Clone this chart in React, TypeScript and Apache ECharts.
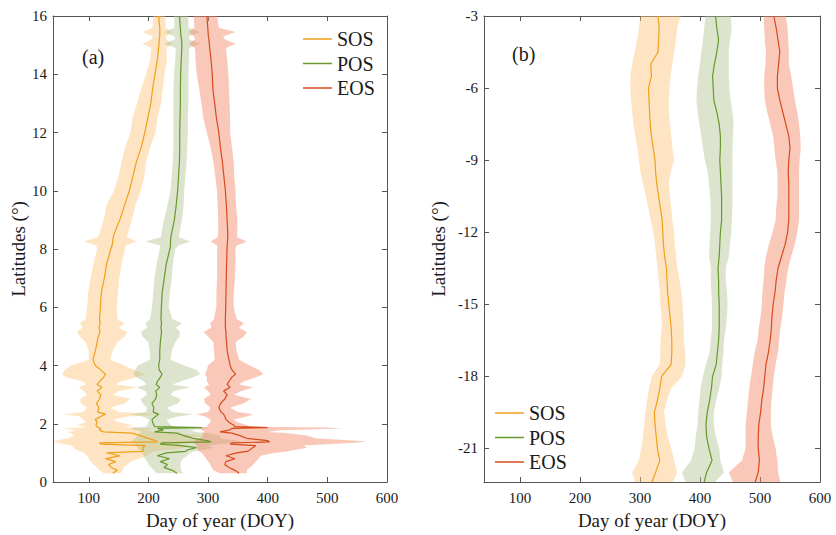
import React, { useEffect, useRef } from "react";
import * as echarts from "echarts";

// ---------- Panel (a): latitudes 0–16 ----------
const latA = [0.3,0.4,0.5,0.6,0.7,0.8,0.9,1.0,1.05,1.1,1.18,1.25,1.3,1.34,1.38,1.42,1.5,1.6,1.68,1.72,1.78,1.84,1.87,1.9,1.95,2.05,2.15,2.25,2.33,2.4,2.55,2.7,2.85,3.0,3.12,3.25,3.35,3.45,3.6,3.7,3.85,4.0,4.2,4.5,4.8,5.0,5.15,5.3,5.45,5.6,6.0,6.5,7.0,7.5,8.0,8.12,8.26,8.4,8.55,9.0,9.5,10.0,10.5,11.0,11.5,12.0,12.5,13.0,13.5,14.0,14.5,14.9,15.05,15.2,15.3,15.45,15.6,16.0];

const sosA = [140,148,138,133,145,128,152,130,190,192,190,195,120,118,215,212,200,185,172,125,118,120,116,114,112,114,111,120,128,115,117,113,118,120,114,122,114,118,125,128,120,111,107,111,114,116,119,117,119,118,119.5,121,126,130,137,139,140,141,143,152,160,168,174,180,188,194,199,204,207,211,215,217,218,218,219,219,219,217];
const sosLoA = [125,118,114,108,103,100,97,92,86,80,75,72,60,50,41,45,65,75,70,64,80,55,90,95,80,95,91,85,58,90,97,86,86,97,92,83,95,91,62,55,60,70,100,100,95,85,80,90,85,95,97,99,103,108,114,113,92,115,118,125,130,142,150,155,161,170,173,181,188,196,203,205,190,205,208,190,207,208];
const sosHiA = [153,158,158,165,170,185,198,205,209,230,265,265,250,280,310,300,260,298,240,209,195,215,170,160,175,150,142,165,230,150,136,160,170,140,150,181,145,153,180,195,175,160,136,140,148,160,165,150,160,148,147,149,151,155,161,162,180,164,166,172,178,187,193,196,203,212,215,221,224,227,231,230,240,230,229,240,229,228];

const posA = [248,240,226,232,220,235,215,230,262,265,280,255,220,222,305,298,275,258,248,210,225,215,290,211,209,207,206,212,217,208,209,206,212,214,212,219,213,215,220,223,218,217,219,219,220,221,222,221,222,221,221.7,223,226.5,230,236,237,237,237.5,239,243.5,246.5,249,250.5,252,252.5,252.5,253,253.6,253.6,254,255,256,256,255.5,254.5,254,253.5,252];
const posLoA = [214,209,205,200,198,195,192,190,187,185,181,181,178,172,170,172,178,181,185,190,180,170,175,195,198,200,201,190,170,195,198,190,187,198,195,181,197,192,180,175,178,182,203,202,200,190,187,198,195,203,206,208,210,214,219,220,195,221,222,226,232,237,239,241,242,242,242,242,242,243,245,246,226,245,244,226,244,243];
const posHiA = [259,254,254,254,254,258,265,270,276,290,310,300,320,340,354,350,320,321,300,280,270,298,300,245,238,233,231,250,276,240,231,250,254,237,242,270,240,254,275,287,280,260,237,239,245,252,253,246,256,240,234,236,239,241,245,250,270,251,252,256,259,260,262,264,265,266,266,267,267,267,268,268,287,268,268,287,267,267];

const eosA = [352,345,335,328,330,345,330,348,365,370,375,380,337,340,403,400,365,352,340,320,335,340,400,345,343,335,330,328,326,322,318,321,328,332,326,337,332,335,340,346,340,337,335,332,331,330,330,329,329,329,329.6,330,330.5,331,331.8,332,332.5,333,333,331.8,330.7,329,326.5,324,320.6,318,314,311,308,307,305,302.7,302,301.5,300.5,300,299.5,298];
const eosLoA = [320,309,306,304,300,297,293,290,285,283,281,281,278,276,276,278,285,293,290,295,290,287,290,300,298,304,304,295,281,300,304,295,293,304,300,293,302,298,298,295,298,300,311,310,309,300,293,305,304,310,314,314,315,315,315,316,304,316,317,317,316,315,312,309,304,298,292,289,285,281,279,278,268,278,277,268,277,276];
const eosHiA = [365,365,370,376,380,385,388,410,432,445,466,460,500,540,566,550,480,466,430,400,420,527,500,370,365,350,343,365,376,350,337,360,372,343,355,376,352,360,380,393,385,370,352,348,346,360,365,352,360,348,343,343,345,346,346,348,365,349,349,349,347,346,344,343,340,337,337,336,335,334,332,330,346,328,325,346,318,315];

// ---------- Panel (b): latitudes -3 to -22.4 ----------
const latB = [-3.0,-3.5,-4.0,-4.5,-5.0,-5.5,-6.0,-6.5,-7.0,-7.5,-8.0,-8.5,-9.0,-9.5,-10.0,-10.5,-11.0,-11.5,-12.0,-12.5,-13.0,-13.5,-14.0,-14.5,-15.0,-15.5,-16.0,-16.5,-17.0,-17.5,-18.0,-18.5,-19.0,-19.5,-20.0,-20.5,-21.0,-21.5,-22.0,-22.4];

const sosB = [330,332,331,330,318,319,314,315,316,317,319,322,325,326,328,331,334,337,338,339,341,344,345,346,348,350,352,353,353,352,336,333,329,324,325,327,329,333,326,320];
const sosLoB = [301,298,295,291,287,284,284,285,287,289,292,296,298,301,305,310,314,318,322,325,327,329,331,333,334,336,336,334,334,333,320,315,312,309,307,305,302,298,287,292];
const sosHiB = [368,362,360,357,354,351,349,348,348,350,352,354,357,351,348,350,352,354,357,358,360,362,366,369,371,372,373,373,375,376,370,352,345,340,343,346,352,357,362,355];

const posB = [426,428,431,428,424,421,422,423,428,432,434,434,433,434,435,436,436,436,434,433,432,430,431,431,432,432,432,431,429,427,421,419,416,412,410,411,415,420,411,407];
const posLoB = [409,407,405,402,400,397,395,394,396,399,402,405,408,413,415,417,418,418,417,416,415,418,418,419,420,420,420,418,416,410,405,401,399,397,396,393,391,385,370,376];
const posHiB = [451,453,450,448,448,448,449,451,454,456,455,454,454,454,454,454,454,453,452,450,448,443,443,445,446,445,443,440,439,437,436,432,427,423,423,426,432,434,440,425];

const eosB = [523,527,530,533,531,529,529,533,538,543,548,550,548,547,548,548,548,548,546,542,536,530,527,525,522,520,519,517,514,510,508,506,503,501,498,497,497,499,497,492];
const eosLoB = [506,507,508,510,509,507,507,508,512,517,522,524,526,529,529,529,527,526,521,515,510,507,506,504,503,501,498,496,491,488,485,482,480,478,476,476,476,470,448,455];
const eosHiB = [543,546,547,548,548,552,555,558,562,565,567,568,566,565,565,565,565,565,562,558,552,547,544,541,539,537,534,532,530,526,523,521,519,518,518,521,526,529,530,534];

const xTicks = [100, 200, 300, 400, 500, 600];
const yTicksA = [0, 2, 4, 6, 8, 10, 12, 14, 16];
const yTicksB = [-3, -6, -9, -12, -15, -18, -21];
const seriesNames = ["SOS", "POS", "EOS"];

const FONT = "Liberation Serif";
const LINE_COLORS: Record<string, string> = { SOS: "#EFA11A", POS: "#67992C", EOS: "#D64A1C" };
const BAND_COLORS: Record<string, string> = {
  SOS: "rgba(252,196,120,0.45)",
  POS: "rgba(177,195,144,0.45)",
  EOS: "rgba(242,133,99,0.45)",
};
const AXIS_COLOR = "#555";
const TEXT_COLOR = "#1a1a1a";

function bandSeries(name: string, lat: number[], lo: number[], hi: number[], idx: number) {
  return {
    name: name + " band",
    type: "custom",
    coordinateSystem: "cartesian2d",
    xAxisIndex: idx * 2,
    yAxisIndex: idx * 2,
    silent: true,
    z: 1,
    data: [[lo[0], lat[0]]],
    encode: { x: 0, y: 1 },
    renderItem: (_params: any, api: any) => {
      const pts: number[][] = [];
      for (let i = 0; i < lat.length; i++) pts.push(api.coord([lo[i], lat[i]]));
      for (let i = lat.length - 1; i >= 0; i--) pts.push(api.coord([hi[i], lat[i]]));
      return { type: "polygon", shape: { points: pts }, style: { fill: BAND_COLORS[name], stroke: null } };
    },
  };
}

function lineSeries(name: string, lat: number[], x: number[], idx: number) {
  const c = LINE_COLORS[name];
  return {
    name,
    type: "line",
    xAxisIndex: idx * 2,
    yAxisIndex: idx * 2,
    data: lat.map((y, i) => [x[i], y]),
    showSymbol: false,
    symbol: "none",
    color: c,
    itemStyle: { color: c },
    lineStyle: { color: c, width: 1.2 },
    silent: true,
    z: 3,
  };
}

const labelStyle = { fontFamily: FONT, fontSize: 15, color: TEXT_COLOR };
const nameStyle = { fontFamily: FONT, fontSize: 19, color: TEXT_COLOR };

function xAxes(gridIndex: number) {
  const base = {
    type: "value",
    gridIndex,
    min: 40,
    max: 600,
    splitLine: { show: false },
    axisLine: { show: true, onZero: false, lineStyle: { color: AXIS_COLOR, width: 1 } },
    axisTick: { show: true, inside: true, length: 5, customValues: xTicks, lineStyle: { color: AXIS_COLOR } },
  };
  return [
    {
      ...base,
      position: "bottom",
      axisLabel: { ...labelStyle, customValues: xTicks, margin: 8 },
      name: "Day of year (DOY)",
      nameLocation: "middle",
      nameGap: 29,
      nameTextStyle: nameStyle,
    },
    { ...base, position: "top", axisLabel: { show: false } },
  ];
}

function yAxes(gridIndex: number, min: number, max: number, ticks: number[], nameGap: number) {
  const base = {
    type: "value",
    gridIndex,
    min,
    max,
    splitLine: { show: false },
    axisLine: { show: true, onZero: false, lineStyle: { color: AXIS_COLOR, width: 1 } },
    axisTick: { show: true, inside: true, length: 5, customValues: ticks, lineStyle: { color: AXIS_COLOR } },
  };
  return [
    {
      ...base,
      position: "left",
      axisLabel: { ...labelStyle, customValues: ticks, margin: 6 },
      name: "Latitudes (°)",
      nameLocation: "middle",
      nameGap,
      nameRotate: 90,
      nameTextStyle: nameStyle,
    },
    { ...base, position: "right", axisLabel: { show: false } },
  ];
}

function legend(left: number, top: number) {
  return {
    data: seriesNames,
    orient: "vertical",
    left,
    top,
    padding: 0,
    icon: "rect",
    itemWidth: 29,
    itemHeight: 1.5,
    itemGap: 4.5,
    selectedMode: false,
    textStyle: { fontFamily: FONT, fontSize: 20, color: TEXT_COLOR },
  };
}

export default function App() {
  const ref = useRef<HTMLDivElement>(null);
  useEffect(() => {
    document.body.style.margin = "0";
    if (!ref.current) return;
    const chart = echarts.init(ref.current, null, { renderer: "svg" });
    const option = {
      animation: false,
      backgroundColor: "#ffffff",
      grid: [
        { left: 53, top: 16, width: 334, height: 467 },
        { left: 484, top: 16, width: 336, height: 467 },
      ],
      xAxis: [...xAxes(0), ...xAxes(1)],
      yAxis: [...yAxes(0, 0, 16, yTicksA, 24), ...yAxes(1, -22.4, -3, yTicksB, 36)],
      legend: [legend(303, 29), legend(495, 403)],
      graphic: [
        { type: "text", x: 82, y: 47, style: { text: "(a)", fontFamily: FONT, fontSize: 20, fill: TEXT_COLOR } },
        { type: "text", x: 512, y: 44, style: { text: "(b)", fontFamily: FONT, fontSize: 20, fill: TEXT_COLOR } },
      ],
      series: [
        bandSeries("SOS", latA, sosLoA, sosHiA, 0),
        bandSeries("POS", latA, posLoA, posHiA, 0),
        bandSeries("EOS", latA, eosLoA, eosHiA, 0),
        bandSeries("SOS", latB, sosLoB, sosHiB, 1),
        bandSeries("POS", latB, posLoB, posHiB, 1),
        bandSeries("EOS", latB, eosLoB, eosHiB, 1),
        lineSeries("SOS", latA, sosA, 0),
        lineSeries("POS", latA, posA, 0),
        lineSeries("EOS", latA, eosA, 0),
        lineSeries("SOS", latB, sosB, 1),
        lineSeries("POS", latB, posB, 1),
        lineSeries("EOS", latB, eosB, 1),
      ],
    };
    chart.setOption(option as any);
    return () => chart.dispose();
  }, []);
  return <div ref={ref} style={{ width: 836, height: 535 }} />;
}
